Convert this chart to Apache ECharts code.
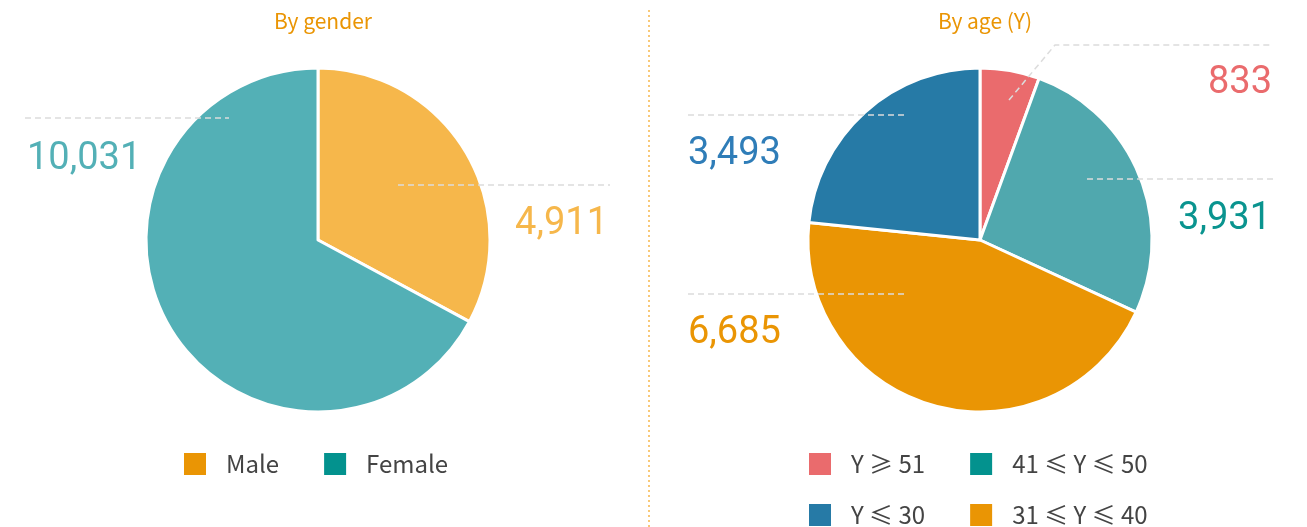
<!DOCTYPE html>
<html>
<head>
<meta charset="utf-8">
<script src="https://cdn.jsdelivr.net/npm/echarts@6/dist/echarts.min.js"></script>
<style>
  html, body { margin: 0; padding: 0; background: #fff; }
  #chart { width: 1307px; height: 527px; }
</style>
</head>
<body>
<div id="chart"></div>
<script>
// data
const genderNames = ['Male', 'Female']
const genderValues = [4911, 10031]
const ageNames = ['Y ≥ 51', '41 ≤ Y ≤ 50', '31 ≤ Y ≤ 40', 'Y ≤ 30']
const ageValues = [833, 3931, 6685, 3493]

// slice / label / legend colours
const genderSlice = ['#F6B74B', '#53B0B6']
const genderLabel = ['#F6B74B', '#53B0B6']
const genderLegend = ['#EA9504', '#03928E']
const ageSlice = ['#EA6B6D', '#50A8AE', '#EA9504', '#267AA6']
const ageLabel = ['#EA6B6D', '#0A948F', '#EA9504', '#2F7DB8']
const ageLegend = ['#EA6B6D', '#03928E', '#EA9504', '#267AA6']

// where each label and its dashed guide sit
const genderLabelPos = [
  { x: 608, y: 224, align: 'right', line: [[398, 185], [610, 185]] },
  { x: 27, y: 159, align: 'left', line: [[25, 118], [229, 118]] }
]
const ageLabelPos = [
  { x: 1272, y: 83, align: 'right', line: [[1009, 100], [1055, 45], [1273, 45]] },
  { x: 1271, y: 219, align: 'right', line: [[1087, 179], [1273, 179]] },
  { x: 688, y: 333, align: 'left', line: [[688, 294], [905, 294]] },
  { x: 688, y: 154, align: 'left', line: [[688, 115], [905, 115]] }
]

const chart = echarts.init(document.getElementById('chart'))

const fmt = (p) => p.value.toLocaleString('en-US')

function makeLayout(pos) {
  return (params) => {
    const p = pos[params.dataIndex]
    return {
      x: p.x,
      y: p.y,
      align: p.align,
      verticalAlign: 'middle',
      labelLinePoints: p.line
    }
  }
}

const pieCommon = {
  type: 'pie',
  radius: 172,
  startAngle: 90,
  clockwise: true,
  avoidLabelOverlap: false,
  animation: false,
  emphasis: { scale: false, disabled: true }
}

// the coloured slices
function pieSlices(name, center, names, values, sliceColors) {
  return Object.assign({}, pieCommon, {
    name: name,
    center: center,
    z: 2,
    itemStyle: { borderColor: '#fff', borderWidth: 3 },
    label: { show: false },
    labelLine: { show: false },
    data: names.map((n, i) => ({ name: n, value: values[i], itemStyle: { color: sliceColors[i] } }))
  })
}

// same data again, transparent, so value labels and dashed guides sit on top of the slices
function pieLabels(name, center, names, values, labelColors, pos) {
  return Object.assign({}, pieCommon, {
    name: name + '-labels',
    center: center,
    z: 5,
    silent: true,
    itemStyle: { color: 'rgba(0,0,0,0)', borderWidth: 0 },
    label: {
      show: true,
      position: 'outside',
      formatter: fmt,
      fontFamily: 'Roboto',
      fontSize: 38
    },
    labelLine: {
      show: true,
      lineStyle: { color: '#dcdcdc', width: 1.5, type: [6, 4] }
    },
    labelLayout: makeLayout(pos),
    data: names.map((n, i) => ({ name: n, value: values[i], label: { color: labelColors[i] } }))
  })
}

const legendBase = {
  orient: 'horizontal',
  icon: 'rect',
  itemWidth: 24,
  itemHeight: 24,
  itemGap: 43,
  padding: 0,
  selectedMode: false,
  textStyle: {
    fontFamily: 'Noto Sans CJK SC',
    fontSize: 24,
    color: '#444',
    lineHeight: 24,
    padding: [0, 0, 0, 14]
  }
}

const legendData = (names, colors) => names.map((n, i) => ({ name: n, itemStyle: { color: colors[i] } }))

const option = {
  backgroundColor: '#fff',
  title: [
    {
      text: 'By gender', left: 318, top: 6, textAlign: 'center',
      textStyle: { color: '#EA9504', fontFamily: 'Noto Sans CJK SC', fontSize: 21, fontWeight: 'normal' }
    },
    {
      text: 'By age (Y)', left: 980, top: 6, textAlign: 'center',
      textStyle: { color: '#EA9504', fontFamily: 'Noto Sans CJK SC', fontSize: 21, fontWeight: 'normal' }
    }
  ],
  legend: [
    Object.assign({}, legendBase, {
      left: 182, top: 451,
      data: legendData(genderNames, genderLegend)
    }),
    Object.assign({}, legendBase, {
      left: 807, top: 451,
      data: legendData([ageNames[0], ageNames[1]], [ageLegend[0], ageLegend[1]])
    }),
    Object.assign({}, legendBase, {
      left: 807, top: 502,
      data: legendData([ageNames[3], ageNames[2]], [ageLegend[3], ageLegend[2]])
    })
  ],
  graphic: [
    {
      type: 'line',
      shape: { x1: 649, y1: 10, x2: 649, y2: 527 },
      style: { stroke: '#F6B74B', lineWidth: 1.5, lineDash: [2, 3] }
    }
  ],
  series: [
    pieSlices('gender', [318, 240], genderNames, genderValues, genderSlice),
    pieSlices('age', [980, 240], ageNames, ageValues, ageSlice),
    pieLabels('gender', [318, 240], genderNames, genderValues, genderLabel, genderLabelPos),
    pieLabels('age', [980, 240], ageNames, ageValues, ageLabel, ageLabelPos)
  ]
}

chart.setOption(option)
window.addEventListener('resize', () => chart.resize())
</script>
</body>
</html>
